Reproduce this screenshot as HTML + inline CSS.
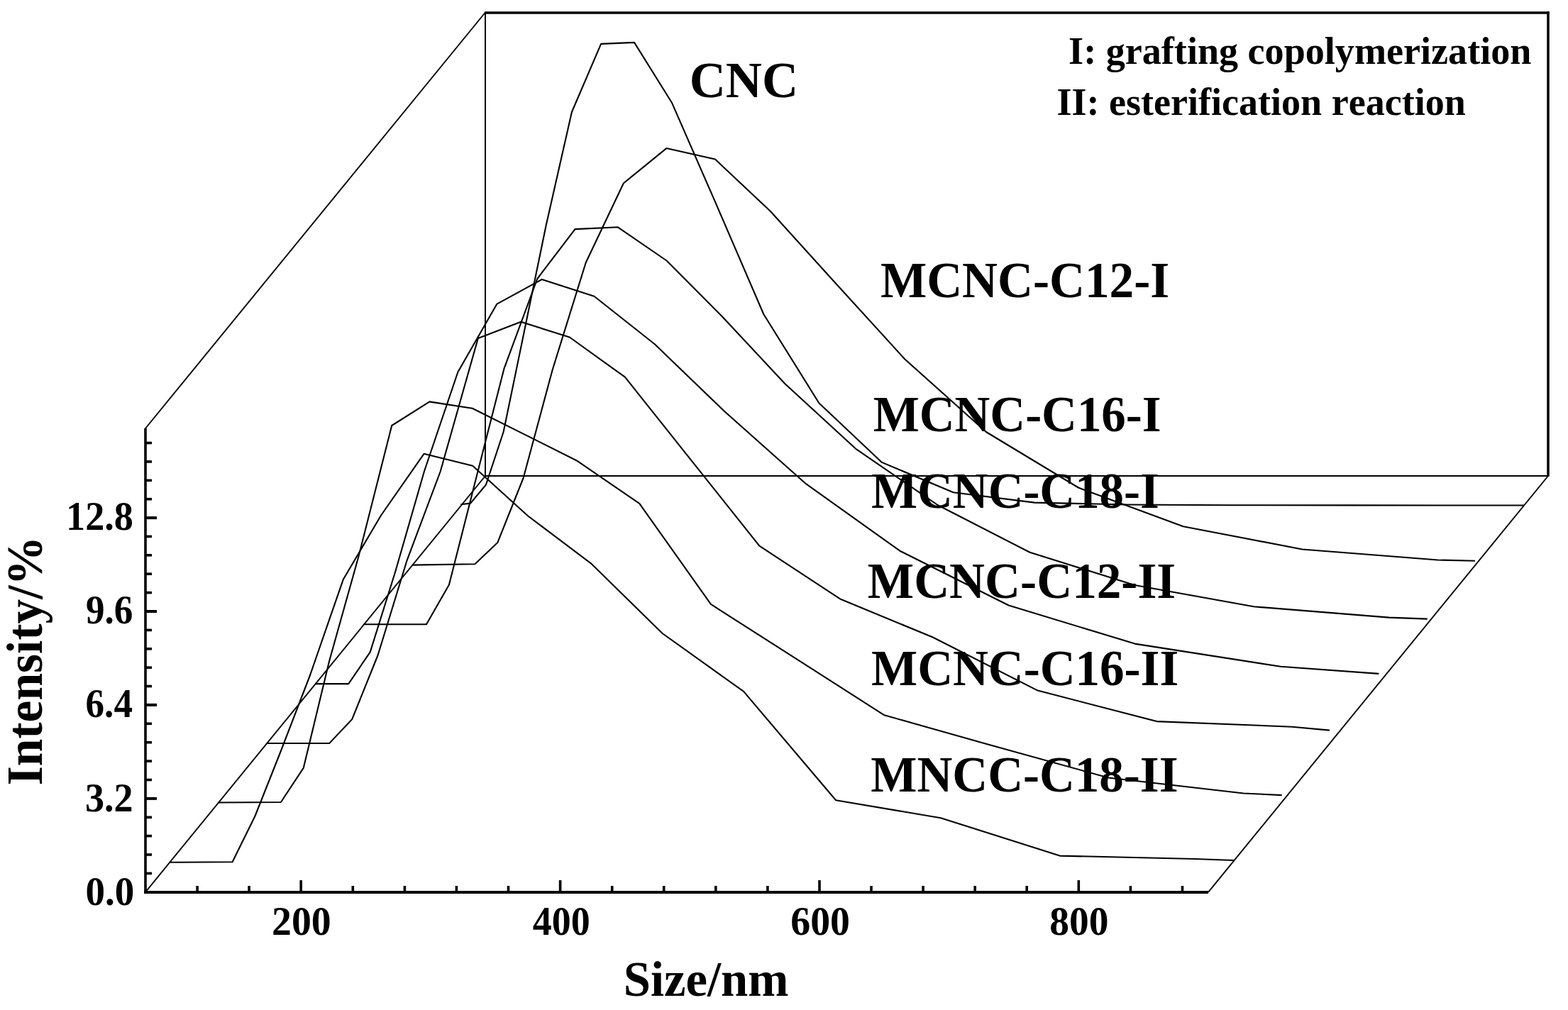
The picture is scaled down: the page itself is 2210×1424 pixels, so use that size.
<!DOCTYPE html>
<html><head><meta charset="utf-8"><title>DLS waterfall</title>
<style>html,body{margin:0;padding:0;background:#fff;}svg{display:block;}</style>
</head><body>
<svg width="2210" height="1424" viewBox="0 0 2210 1424">
<rect width="2210" height="1424" fill="#fff"/>
<g stroke="#000" fill="none" stroke-linecap="butt">
<line x1="683" y1="18" x2="2183.8" y2="18" stroke-width="3.4"/>
<line x1="2182" y1="16.3" x2="2182" y2="671.8" stroke-width="3.5"/>
<line x1="684" y1="17" x2="684" y2="671.5" stroke-width="2"/>
<line x1="684" y1="671" x2="2182" y2="671" stroke-width="2"/>
<line x1="205" y1="604" x2="684" y2="17.5" stroke-width="1.9"/>
<line x1="205" y1="1257.8" x2="684" y2="671" stroke-width="1.9"/>
<line x1="1703" y1="1257.8" x2="2182" y2="671" stroke-width="1.9"/>
<line x1="205" y1="603.8" x2="205" y2="1259.8" stroke-width="3.6"/>
<line x1="203.2" y1="1257.9" x2="1703" y2="1257.9" stroke-width="4"/>
<line x1="206" y1="1231.4" x2="214" y2="1231.4" stroke-width="3.6"/>
<line x1="206" y1="1205" x2="214" y2="1205" stroke-width="3.6"/>
<line x1="206" y1="1178.6" x2="214" y2="1178.6" stroke-width="3.6"/>
<line x1="206" y1="1152.3" x2="214" y2="1152.3" stroke-width="3.6"/>
<line x1="206" y1="1125.9" x2="221" y2="1125.9" stroke-width="4"/>
<line x1="206" y1="1099.5" x2="214" y2="1099.5" stroke-width="3.6"/>
<line x1="206" y1="1073.1" x2="214" y2="1073.1" stroke-width="3.6"/>
<line x1="206" y1="1046.7" x2="214" y2="1046.7" stroke-width="3.6"/>
<line x1="206" y1="1020.3" x2="214" y2="1020.3" stroke-width="3.6"/>
<line x1="206" y1="993.9" x2="221" y2="993.9" stroke-width="4"/>
<line x1="206" y1="967.5" x2="214" y2="967.5" stroke-width="3.6"/>
<line x1="206" y1="941.2" x2="214" y2="941.2" stroke-width="3.6"/>
<line x1="206" y1="914.8" x2="214" y2="914.8" stroke-width="3.6"/>
<line x1="206" y1="888.4" x2="214" y2="888.4" stroke-width="3.6"/>
<line x1="206" y1="862" x2="221" y2="862" stroke-width="4"/>
<line x1="206" y1="835.6" x2="214" y2="835.6" stroke-width="3.6"/>
<line x1="206" y1="809.2" x2="214" y2="809.2" stroke-width="3.6"/>
<line x1="206" y1="782.8" x2="214" y2="782.8" stroke-width="3.6"/>
<line x1="206" y1="756.4" x2="214" y2="756.4" stroke-width="3.6"/>
<line x1="206" y1="730.1" x2="221" y2="730.1" stroke-width="4"/>
<line x1="206" y1="703.7" x2="214" y2="703.7" stroke-width="3.6"/>
<line x1="206" y1="677.3" x2="214" y2="677.3" stroke-width="3.6"/>
<line x1="206" y1="650.9" x2="214" y2="650.9" stroke-width="3.6"/>
<line x1="206" y1="624.5" x2="214" y2="624.5" stroke-width="3.6"/>
<line x1="278.1" y1="1249" x2="278.1" y2="1256" stroke-width="3.6"/>
<line x1="351.1" y1="1249" x2="351.1" y2="1256" stroke-width="3.6"/>
<line x1="424.2" y1="1241" x2="424.2" y2="1256" stroke-width="3.6"/>
<line x1="497.3" y1="1249" x2="497.3" y2="1256" stroke-width="3.6"/>
<line x1="570.4" y1="1249" x2="570.4" y2="1256" stroke-width="3.6"/>
<line x1="643.4" y1="1249" x2="643.4" y2="1256" stroke-width="3.6"/>
<line x1="716.5" y1="1249" x2="716.5" y2="1256" stroke-width="3.6"/>
<line x1="789.6" y1="1241" x2="789.6" y2="1256" stroke-width="3.6"/>
<line x1="862.7" y1="1249" x2="862.7" y2="1256" stroke-width="3.6"/>
<line x1="935.7" y1="1249" x2="935.7" y2="1256" stroke-width="3.6"/>
<line x1="1008.8" y1="1249" x2="1008.8" y2="1256" stroke-width="3.6"/>
<line x1="1081.9" y1="1249" x2="1081.9" y2="1256" stroke-width="3.6"/>
<line x1="1155" y1="1241" x2="1155" y2="1256" stroke-width="3.6"/>
<line x1="1228" y1="1249" x2="1228" y2="1256" stroke-width="3.6"/>
<line x1="1301.1" y1="1249" x2="1301.1" y2="1256" stroke-width="3.6"/>
<line x1="1374.2" y1="1249" x2="1374.2" y2="1256" stroke-width="3.6"/>
<line x1="1447.2" y1="1249" x2="1447.2" y2="1256" stroke-width="3.6"/>
<line x1="1520.3" y1="1241" x2="1520.3" y2="1256" stroke-width="3.6"/>
<line x1="1593.4" y1="1249" x2="1593.4" y2="1256" stroke-width="3.6"/>
<line x1="1666.5" y1="1249" x2="1666.5" y2="1256" stroke-width="3.6"/>
</g>
<g stroke="#000" fill="none" stroke-width="2.1" stroke-linejoin="round" stroke-linecap="butt">
<polyline points="649.3,711.3 663.1,709.6 684.9,683.5 709.6,609 737.7,473 769.6,318 805.9,158 847.1,61.9 894,59.9 947.2,145.3 1007.6,283.7 1076.3,443 1154.3,568.2 1243,651.9 1343.7,694.2 1458.2,708.6 1588.2,711.5 1736,712.2 1903.8,712.4 2094.5,712.5 2148,712.5"/>
<polyline points="581,796.6 669.4,795.2 701.3,765 737.6,674 778.8,521 825.7,370.3 878.9,258.3 939.3,209.1 1008,224.6 1086,298 1174.7,396 1275.4,506.5 1389.9,609 1519.9,687.5 1667.7,742.2 1835.5,774.5 2026.2,789.5 2079,790.7"/>
<polyline points="512.6,880.2 601,880.2 632.9,824.6 669.2,681.5 710.4,519.9 757.3,393 810.5,323.1 870.9,320.3 939.6,367.5 1017.6,446 1106.3,541 1207,633.4 1321.5,712 1451.5,778.8 1599.3,825 1767.1,855.3 1957.8,870.6 2011.8,872.6"/>
<polyline points="444.3,964.1 491.2,964.1 521.7,919.4 557.2,806 598.1,664 645.4,524.5 700.4,428.6 763.9,393.9 837.5,417.8 922.8,485.3 1021.7,580.5 1136,682.2 1268.4,776.7 1421.7,853.5 1599.4,907.6 1805,939.8 1943.4,949.9"/>
<polyline points="375.9,1048 464.3,1047.9 496.2,1014.1 532.5,924 573.7,789.8 620.6,665 673.8,477 734.2,453.8 802.9,475.5 880.9,531.7 969.6,643.1 1070.3,769.6 1184.8,844.8 1314.8,898.5 1462.6,973.6 1630.4,1017.1 1821.1,1024.7 1873.9,1029.6"/>
<polyline points="307.5,1131.5 395.9,1131 427.8,1082.6 464.1,932 505.3,785 552.2,600 605.4,566.4 665.8,575.7 734.5,610.1 812.5,649.2 901.2,709.8 1001.9,851.9 1116.4,925.2 1246.4,1008.3 1394.2,1050 1562,1096.5 1752.7,1118.5 1806.7,1121.1"/>
<polyline points="239.2,1215.8 327.6,1215.3 359.5,1150.5 395.8,1059 437,952 483.9,816.7 537.1,726.5 597.5,639.8 666.2,656.7 744.2,727.5 832.9,794.3 933.6,893 1048.1,974.9 1178.1,1128.2 1325.9,1153.2 1493.7,1206.6 1684.4,1211 1739,1213"/>
</g>
<g font-family="Liberation Serif, Times New Roman, serif" font-weight="bold" fill="#000" style="font-variant-ligatures:none;font-kerning:none">
<text transform="translate(120.6,1276) scale(0.9657,1.0)" font-size="57">0.0</text>
<text transform="translate(119.9,1143.8) scale(0.9493,1.0)" font-size="57">3.2</text>
<text transform="translate(120.6,1011.2) scale(0.9309,1.0)" font-size="57">6.4</text>
<text transform="translate(121,879.4) scale(0.9324,1.0)" font-size="57">9.6</text>
<text transform="translate(93.1,747.3) scale(0.9505,1.0)" font-size="57">12.8</text>
<text transform="translate(383,1318) scale(0.9790,1.0)" font-size="57">200</text>
<text transform="translate(750.7,1318) scale(0.9463,1.0)" font-size="57">400</text>
<text transform="translate(1114.3,1318) scale(0.9790,1.0)" font-size="57">600</text>
<text transform="translate(1479.3,1318) scale(0.9728,1.0)" font-size="57">800</text>
<text transform="translate(878.7,1404.2) scale(0.9883,1.0)" font-size="69.5">Size/nm</text>
<text transform="translate(971.8,137) scale(0.9958,1.0)" font-size="71">CNC</text>
<text transform="translate(1240.9,419) scale(0.9742,1.0)" font-size="71">MCNC-C12-I</text>
<text transform="translate(1230.7,607.9) scale(0.9713,1.0)" font-size="71">MCNC-C16-I</text>
<text transform="translate(1228,716) scale(0.9711,1.0)" font-size="71">MCNC-C18-I</text>
<text transform="translate(1222.8,842.9) scale(0.9751,1.0)" font-size="71">MCNC-C12-II</text>
<text transform="translate(1228,965.9) scale(0.9724,1.0)" font-size="71">MCNC-C16-II</text>
<text transform="translate(1227.3,1115.8) scale(0.9724,1.0)" font-size="71">MNCC-C18-II</text>
<text transform="translate(1506.1,90.2) scale(0.9933,1.0)" font-size="54.5">I: grafting copolymerization</text>
<text transform="translate(1489.4,162) scale(0.9922,1.0)" font-size="54.5">II: esterification reaction</text>
<text transform="translate(59.2,1107.3) rotate(-90) scale(0.9789,1.0)" font-size="71">Intensity/%</text>
</g>
</svg>
</body></html>
